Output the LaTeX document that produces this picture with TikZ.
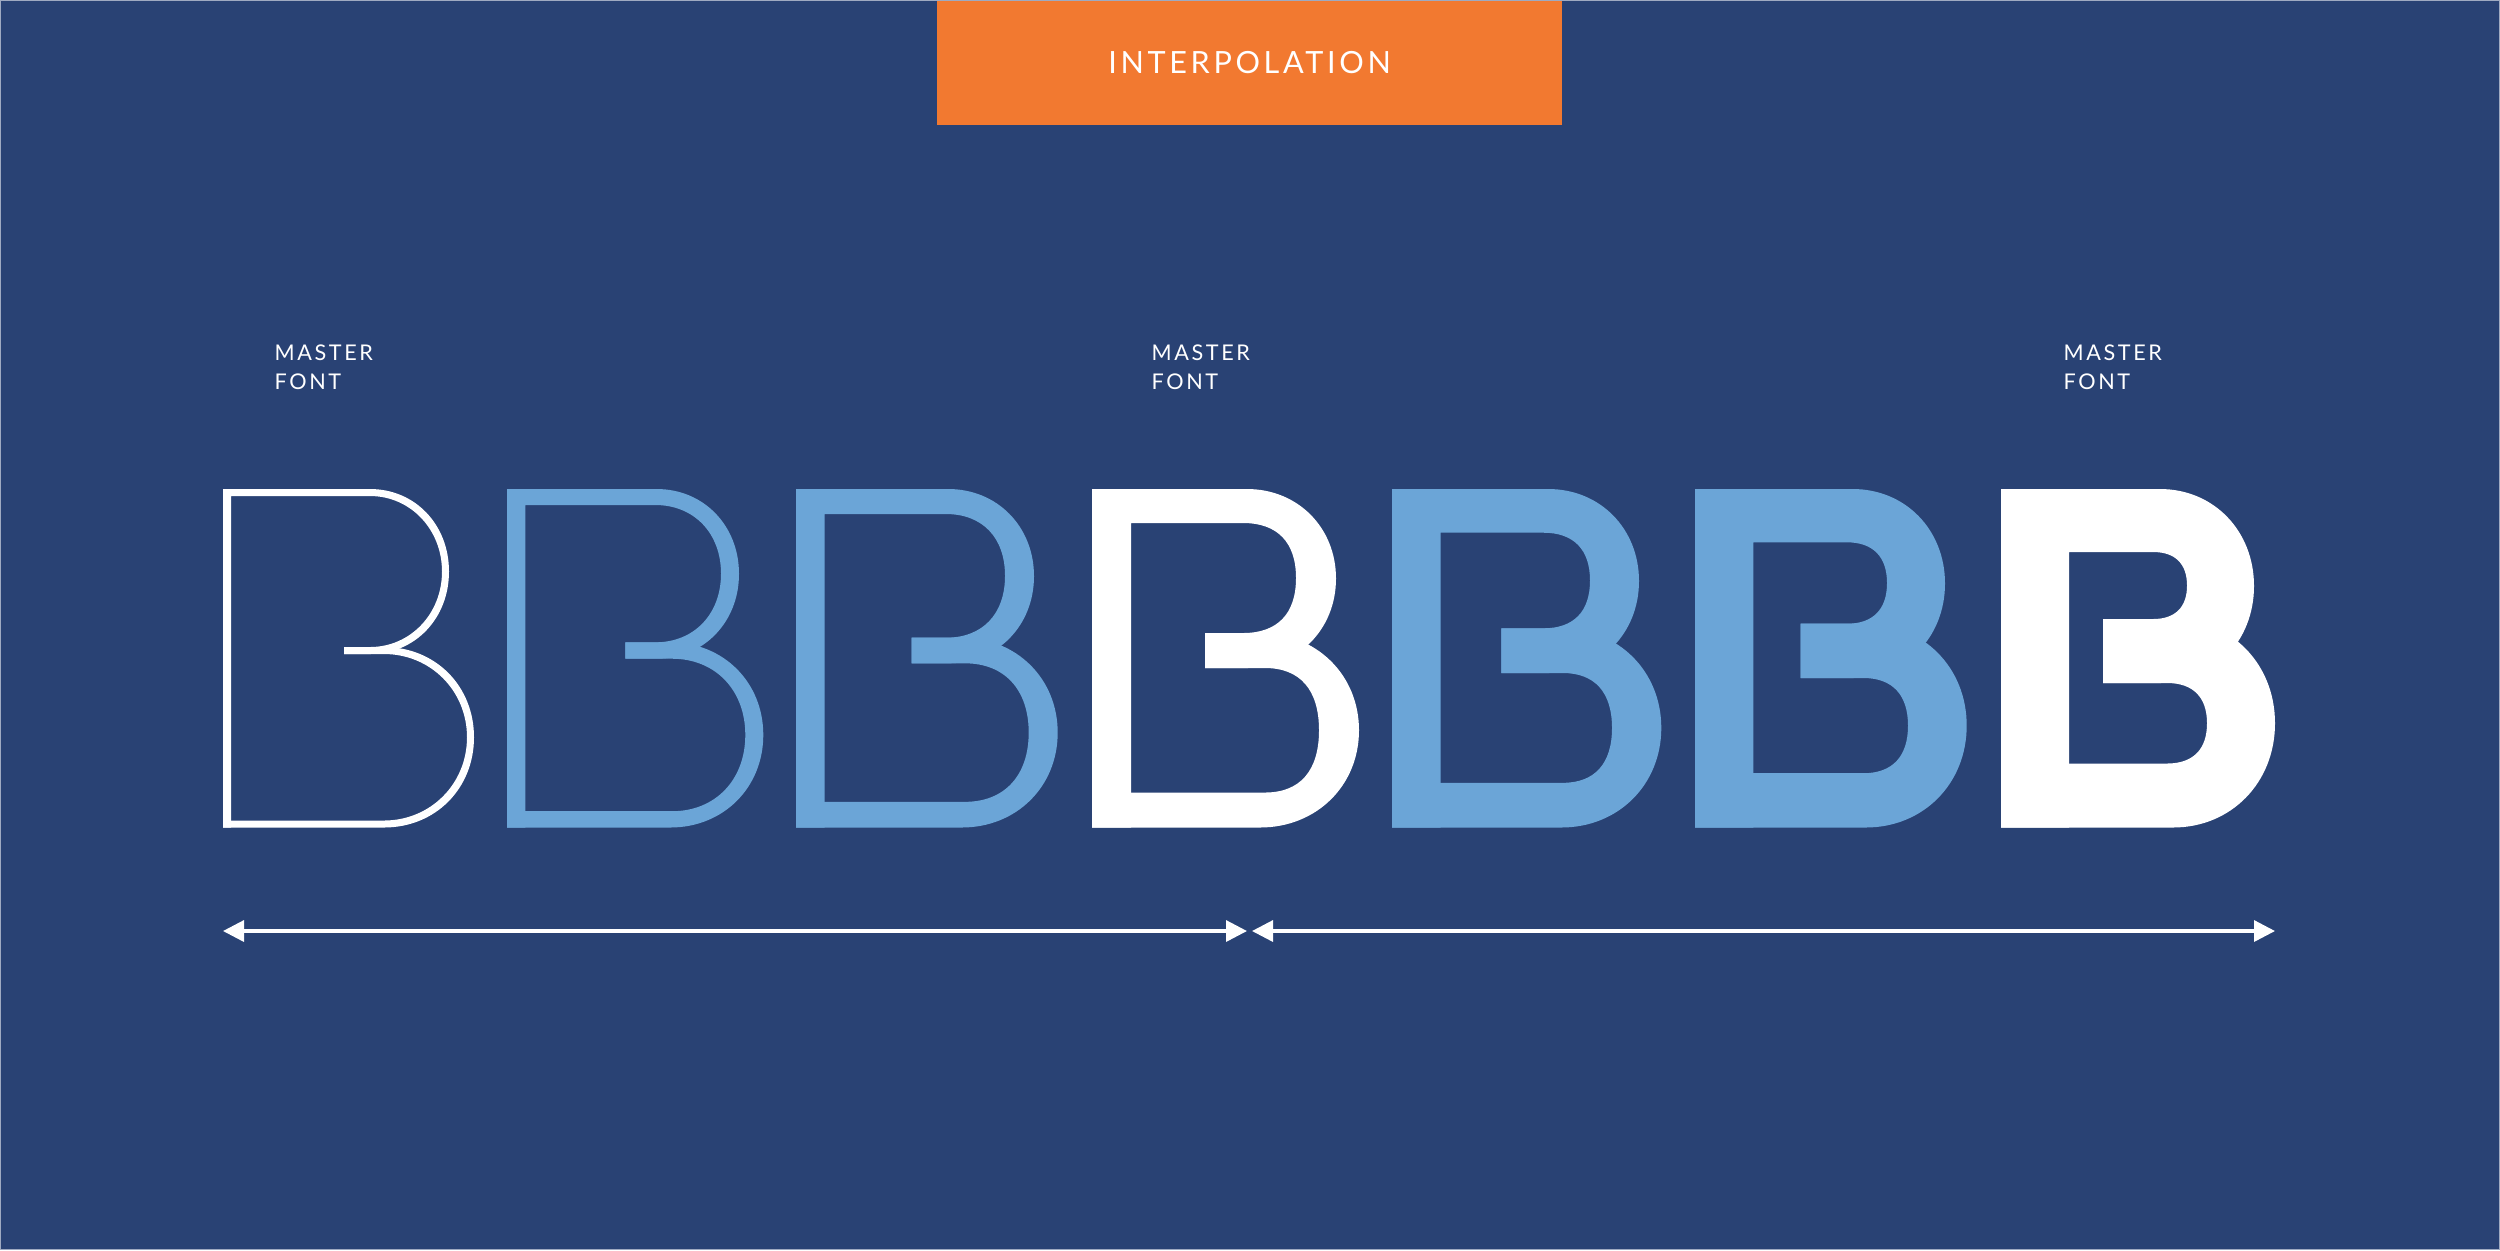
\documentclass[tikz,border=0pt]{standalone}
\usepackage{fontspec}
\usetikzlibrary{arrows.meta}

\newfontfamily\lato{Lato}[LetterSpace=12]
\definecolor{navy}{HTML}{294274}
\definecolor{banner}{HTML}{F27930}
\definecolor{paleblue}{HTML}{6BA5D7}

\begin{document}
\begin{tikzpicture}[x=0.01cm, y=-0.01cm]
    \tikzstyle{darrs}=[line width=0.33mm, white, {Triangle[length=2.1mm, width=2.1mm]}-{Triangle[length=2.1mm, width=2.1mm]}]
    \tikzstyle{caps}=[white, inner sep=0, align=left, font=\lato\fontsize{6.15}{8.2}\selectfont]
    \tikzstyle{tab}=[fill=banner, text=white, inner sep=0, minimum width=6.25cm, minimum height=1.25cm, font=\lato\fontsize{8.7}{10}\selectfont]
    \def\ko{0.57}

    \fill[navy] (0,0) rectangle (2500,1250);
    \useasboundingbox (0,0) rectangle (2500,1250);

    \node[tab] (title) at (1249.5,62.5) {INTERPOLATION};

    \foreach \x/\n in {274/1, 1151/2, 2063/3} {
        \node[caps, anchor=base west] (master\n) at (\x,389) {MASTER\\FONT};
    }

    % one B per weight: left, stem, top, bottom, bar top, bar bottom, stub, upper bowl, lower bowl, counter squareness
    \foreach \L/\sw/\tw/\bw/\st/\sb/\sx/\uo/\uor/\ui/\uir/\lo/\lor/\li/\lir/\kk/\col in {
        223/8/7/7/647/654/121/147/226/147/219/161/251/161/244/0.56/white,
        507/18.3/16/16.3/642.3/658.7/118.3/149.7/232/148.3/214/163.3/256.3/165/238.3/0.59/paleblue,
        796/28.7/25/25.7/637.7/663.3/115.7/152.3/238/149.7/209/165.7/261.7/169/232.7/0.62/paleblue,
        1092/39/34/35/633/668/113/155/244/151/204/168/267/173/227/0.65/white,
        1392/48.7/43.7/44.7/628.3/673/109.3/156.3/247/151.3/198/169.3/269.3/170.7/220/0.65/paleblue,
        1695/58.3/53.3/54.3/623.7/678/105.7/157.7/250/151.7/192/170.7/271.7/168.3/213/0.65/paleblue,
        2001/68/63/64/619/683/102/159/253/152/186/172/274/166/206/0.65/white} {
        \pgfmathsetmacro\uro{\uor-\uo}
        \pgfmathsetmacro\uyo{(\sb-489)/2}
        \pgfmathsetmacro\uri{\uir-\ui}
        \pgfmathsetmacro\uyi{(\st-489-\tw)/2}
        \pgfmathsetmacro\lro{\lor-\lo}
        \pgfmathsetmacro\lyo{(827.5-\st)/2}
        \pgfmathsetmacro\lri{\lir-\li}
        \pgfmathsetmacro\lyi{(827.5-\bw-\sb)/2}
        % stem and upper bowl
        \fill[\col] (\L,489) -- (\L+\uo,489)
            .. controls (\L+\uo+\ko*\uro,489) and (\L+\uor,489+\uyo-\ko*\uyo) .. (\L+\uor,489+\uyo)
            .. controls (\L+\uor,489+\uyo+\ko*\uyo) and (\L+\uo+\ko*\uro,\sb) .. (\L+\uo,\sb)
            -- (\L+\sx,\sb) -- (\L+\sx,\st) -- (\L+\ui,\st)
            .. controls (\L+\ui+\kk*\uri,\st) and (\L+\uir,\st-\uyi+\kk*\uyi) .. (\L+\uir,\st-\uyi)
            .. controls (\L+\uir,\st-\uyi-\kk*\uyi) and (\L+\ui+\kk*\uri,489+\tw) .. (\L+\ui,489+\tw)
            -- (\L+\sw,489+\tw) -- (\L+\sw,827.5) -- (\L,827.5) -- cycle;
        % lower bowl
        \fill[\col] (\L,827.5) -- (\L+\lo,827.5)
            .. controls (\L+\lo+\ko*\lro,827.5) and (\L+\lor,827.5-\lyo+\ko*\lyo) .. (\L+\lor,827.5-\lyo)
            .. controls (\L+\lor,827.5-\lyo-\ko*\lyo) and (\L+\lo+\ko*\lro,\st) .. (\L+\lo,\st)
            -- (\L+\sx,\st) -- (\L+\sx,\sb) -- (\L+\li,\sb)
            .. controls (\L+\li+\kk*\lri,\sb) and (\L+\lir,\sb+\lyi-\kk*\lyi) .. (\L+\lir,\sb+\lyi)
            .. controls (\L+\lir,\sb+\lyi+\kk*\lyi) and (\L+\li+\kk*\lri,827.5-\bw) .. (\L+\li,827.5-\bw)
            -- (\L,827.5-\bw) -- cycle;
    }

    \coordinate (w) at (223,931);
    \coordinate (m1) at (1247,931);
    \coordinate (m2) at (1252,931);
    \coordinate (e) at (2275,931);
    \draw[darrs] (w) -- (m1);
    \draw[darrs] (m2) -- (e);

    \draw[navy!45!white, line width=0.1mm] (0.5,0.5) rectangle (2499.5,1249.5);
\end{tikzpicture}
\end{document}
